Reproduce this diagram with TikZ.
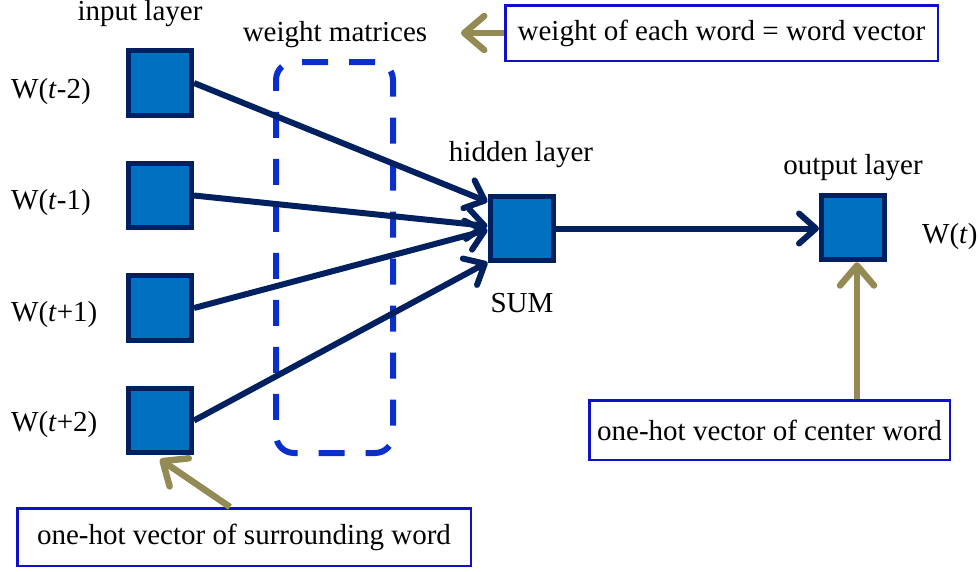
\documentclass[tikz,border=0pt]{standalone}
\usepackage{fontspec}
\setmainfont{Liberation Serif}
\usetikzlibrary{positioning,arrows.meta}
\definecolor{boxfill}{HTML}{0070C0}
\definecolor{navy}{HTML}{002060}
\definecolor{dashblue}{HTML}{0A2FCC}
\definecolor{noteblue}{HTML}{1010C8}
\definecolor{olive}{HTML}{948A54}

\begin{document}
\begin{tikzpicture}[x=1pt, y=-1pt, node distance=43pt,
    font=\fontsize{29}{33}\selectfont,
    unit/.style={draw=navy, fill=boxfill, line width=5pt, minimum width=63pt, minimum height=64.5pt, inner sep=0pt},
    group/.style={draw=dashblue, line width=6pt, rounded corners=18pt, dash pattern=on 26pt off 21pt, minimum width=117pt, minimum height=391pt},
    txt/.style={inner sep=0pt},
    note/.style={draw=noteblue, line width=2.5pt, fill=white, inner sep=0pt},
    link/.style={navy, line width=6pt, -{Straight Barb[length=17pt,width=30pt,round]}},
    hint/.style={olive, line width=6.5pt, -{Straight Barb[length=20pt,width=34pt,round]}}]
  \useasboundingbox (0,0) rectangle (979,571);

  \node [group] (wm) at (334.5,257.5) {};
  \node [unit] (i1) at (160,83) {};
  \node [unit, below=of i1] (i2) {};
  \node [unit, below=of i2] (i3) {};
  \node [unit, below=of i3] (i4) {};
  \node [unit] (hid) at (521.5,228.5) {};
  \node [unit, right=263.5pt of hid, yshift=1pt] (out) {};

  \node [txt] (inlabel) at (140,14) {input layer};
  \node [txt] (wmlabel) at (335,35) {weight matrices};
  \node [txt] (hidlabel) at (521,155) {hidden layer};
  \node [txt] (sumlabel) at (522,303) {SUM};
  \node [txt] (outlabel) at (853,168) {output layer};
  \node [txt, anchor=west] (w1) at (11,92) {W(\textit{t}-2)};
  \node [txt, anchor=west] (w2) at (11,203) {W(\textit{t}-1)};
  \node [txt, anchor=west] (w3) at (11,315) {W(\textit{t}+1)};
  \node [txt, anchor=west] (w4) at (11,425) {W(\textit{t}+2)};
  \node [txt, anchor=west] (wt) at (922,237) {W(\textit{t})};

  \node [note, minimum width=432.5pt, minimum height=55.5pt] (note1) at (721.5,33) {weight of each word = word vector};
  \node [note, minimum width=453.5pt, minimum height=57.5pt] (note2) at (244,537) {one-hot vector of surrounding word};
  \node [note, minimum width=360.5pt, minimum height=59.5pt] (note3) at (769.5,430) {one-hot vector of center word};
  \coordinate (wmtip) at (461,33);

  \draw [link] (i1.east) -- ([yshift=-8pt]hid.north west);
  \draw [link] (i2.east) -- ([yshift=2.5pt]hid.west);
  \draw [link] (i3.east) -- ([yshift=-1.5pt]hid.west);
  \draw [link] (i4.east) -- ([yshift=1pt]hid.south west);
  \draw [link] (hid.east) -- (hid.east -| out.west);

  \draw [hint] (note1.west) -- (wmtip);
  \draw [hint] ([xshift=-14pt]note2.north) -- ([yshift=-4pt]i4.south);
  \draw [hint] ([xshift=4pt]note3.north -| out.south) -- ([xshift=4pt]out.south);
\end{tikzpicture}
\end{document}
